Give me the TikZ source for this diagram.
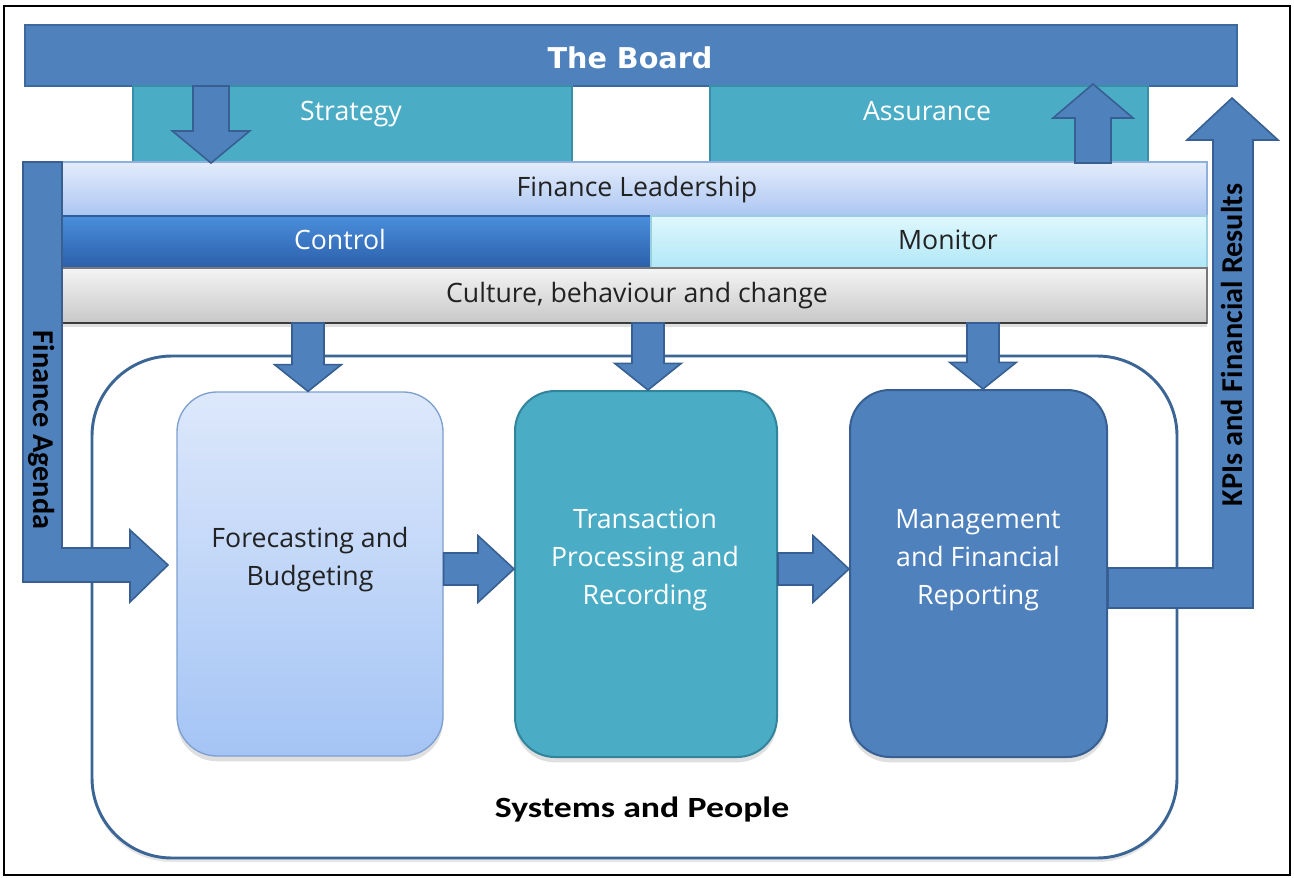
\documentclass[tikz,border=0pt]{standalone}
\usepackage{fontspec}
\setmainfont{Open Sans}
\newfontfamily\calib{Carlito}
\newfontfamily\verd{DejaVu Sans}
\usetikzlibrary{fit,calc,shadows}
\definecolor{boardblue}{HTML}{4F81BD}
\definecolor{boardedge}{HTML}{3D6A9E}
\definecolor{teal}{HTML}{4BACC6}
\definecolor{tealedge}{HTML}{3A8FA8}
\definecolor{tealdark}{HTML}{31849B}
\definecolor{arrowedge}{HTML}{375F91}
\definecolor{darktext}{HTML}{222222}
\definecolor{sysedge}{HTML}{3B6594}
\definecolor{fltop}{RGB}{227,236,251}
\definecolor{flbot}{RGB}{172,198,242}
\definecolor{fledge}{RGB}{143,175,221}
\definecolor{ctop}{RGB}{74,142,220}
\definecolor{cbot}{RGB}{43,95,170}
\definecolor{cedge}{RGB}{47,93,154}
\definecolor{mtop}{RGB}{223,247,253}
\definecolor{mbot}{RGB}{176,232,247}
\definecolor{medge}{RGB}{154,207,224}
\definecolor{gtop}{RGB}{244,244,244}
\definecolor{gbot}{RGB}{200,200,200}
\definecolor{gedge}{RGB}{120,120,120}
\definecolor{gline}{RGB}{60,60,60}
\definecolor{fbtop}{RGB}{221,232,251}
\definecolor{fbbot}{RGB}{164,196,245}
\definecolor{fbedge}{RGB}{126,160,208}
\newcommand\blockarrow[5]{%
  \path ($(#2)!#5!(#1)$) coordinate (bh);
  \draw[blockarr] ($(#1)!#3!90:(#2)$) -- ($(bh)!#3!90:(#2)$) -- ($(bh)!#4!90:(#2)$) -- (#2)
    -- ($(bh)!#4!-90:(#2)$) -- ($(bh)!#3!-90:(#2)$) -- ($(#1)!#3!-90:(#2)$) -- cycle;
}
\tikzset{
  fitbox/.style={rectangle, inner sep=0pt, outer sep=0pt, line width=1pt},
  txt/.style={inner sep=0pt, font=\fontsize{20}{24}\selectfont, text=darktext, text height=14pt, text depth=3pt},
  wtxt/.style={txt, text=white},
  proc/.style={rectangle, rounded corners=30pt, inner sep=0pt, line width=1.5pt,
    drop shadow={shadow xshift=0pt, shadow yshift=-4pt, opacity=0.25}},
  proctxt/.style={inner sep=0pt, align=center, font=\fontsize{20}{28.5}\selectfont},
  blockarr/.style={fill=boardblue, draw=arrowedge, line width=1.2pt, line join=miter},
  vtxt/.style={inner sep=0pt, font=\calib\bfseries\fontsize{22.7}{26}\selectfont, text=black},
}
\begin{document}
\begin{tikzpicture}[x=0.75pt,y=-0.75pt]
\useasboundingbox (0,0) rectangle (1294,877);
\draw[line width=1.5pt, black] (4,6) rectangle (1290,875);

% board and its boxes
\node[fitbox, fill=boardblue, draw=boardedge, fit={(25,25)(1237,86)}] (board) {};
\node[fitbox, fill=teal, draw=tealedge, fit={(133,86)(572,163)}] (strat) {};
\node[fitbox, fill=teal, draw=tealedge, fit={(710,86)(1148,163)}] (assur) {};
\node[inner sep=0pt, font=\verd\bfseries\fontsize{21.5}{25}\selectfont, text=white] (boardt) at (630,58) {The Board};
\node[wtxt] (stratt) at (351,113) {Strategy};
\node[wtxt] (assurt) at (927,113) {Assurance};

% layered bars
\node[fitbox, top color=fltop, bottom color=flbot, draw=fledge, fit={(62,162)(1207,216)}] (fl) {};
\node[fitbox, top color=ctop, bottom color=cbot, draw=cedge, fit={(62,216)(651,268)}] (ctrl) {};
\node[fitbox, top color=mtop, bottom color=mbot, draw=medge, fit={(651,216)(1207,268)}] (mon) {};
\node[fitbox, top color=gtop, bottom color=gbot, draw=gedge, fit={(62,268)(1207,323)},
  drop shadow={shadow xshift=0pt, shadow yshift=-3pt, opacity=0.25}] (cult) {};
\draw[line width=1.5pt, gline] (cult.south west) -- (cult.south east);
\node[txt] (flt) at (637,189) {Finance Leadership};
\node[wtxt] (ctrlt) at (340,242) {Control};
\node[txt] (mont) at (948,242) {Monitor};
\node[txt] (cultt) at (637,295) {Culture, behaviour and change};

% board arrows
\coordinate (x211) at (211,0);
\coordinate (x1093) at (1093,0);
\coordinate (y84) at (0,84);
\blockarrow{board.south -| x211}{strat.south -| x211}{13.5pt}{29pt}{24pt}
\blockarrow{assur.south -| x1093}{y84 -| x1093}{13.5pt}{30pt}{25.5pt}

% systems and people
\node[rectangle, rounded corners=60pt, draw=sysedge, line width=2.2pt, fill=white, inner sep=0pt,
  fit={(92,356)(1177,858)}, drop shadow={shadow xshift=0pt, shadow yshift=-3pt, opacity=0.2}] (sys) {};
\node[inner sep=0pt, font=\calib\bfseries\fontsize{22}{26}\selectfont, text=black] (syst) at (642,810) {\scalebox{1.22}[1]{Systems and People}};

% process boxes
\node[proc, top color=fbtop, bottom color=fbbot, draw=fbedge, line width=1pt, fit={(177,392)(443,756)}] (fb) {};
\node[proc, fill=teal, draw=tealdark, fit={(515,391)(777,757)}] (tp) {};
\node[proc, fill=boardblue, draw=arrowedge, fit={(850,390)(1107,757)}] (mf) {};
\node[proctxt, text=darktext] (fbt) at (310,560) {Forecasting and\\Budgeting};
\node[proctxt, text=white] (tpt) at (645,560) {Transaction\\Processing and\\Recording};
\node[proctxt, text=white] (mft) at (978,560) {Management\\and Financial\\Reporting};

% arrows from culture bar
\coordinate (x308) at (308,0);
\coordinate (x648) at (648,0);
\coordinate (x983) at (983,0);
\blockarrow{cult.south -| x308}{fb.north -| x308}{12pt}{25pt}{20pt}
\blockarrow{cult.south -| x648}{tp.north -| x648}{12pt}{25pt}{20pt}
\blockarrow{cult.south -| x983}{mf.north -| x983}{12pt}{25pt}{20pt}

% process arrows
\coordinate (y569) at (0,569);
\blockarrow{fb.east |- y569}{tp.west |- y569}{12pt}{25pt}{27pt}
\blockarrow{tp.east |- y569}{mf.west |- y569}{12pt}{25pt}{27pt}

% finance agenda L-arrow
\coordinate (fatip) at (168,565);
\draw[blockarr] (23,162) -- (62,162) -- (62,548) -- (130,548) -- (130,530) -- (fatip)
  -- (130,602) -- (130,582) -- (23,582) -- cycle;
\node[vtxt, rotate=-90] (fat) at (42,430) {Finance Agenda};

% KPIs L-arrow
\coordinate (kpitip) at (1232,98);
\coordinate (y568) at (0,568);
\coordinate (y608) at (0,608);
\draw[blockarr] (mf.east |- y568) -- (1213,568) -- (1213,140) -- (1187,140) -- (kpitip)
  -- (1278,140) -- (1253,140) -- (1253,608) -- (mf.east |- y608) -- cycle;
\node[vtxt, rotate=90] (kpit) at (1232,345) {KPIs and Financial Results};
\end{tikzpicture}
\end{document}
